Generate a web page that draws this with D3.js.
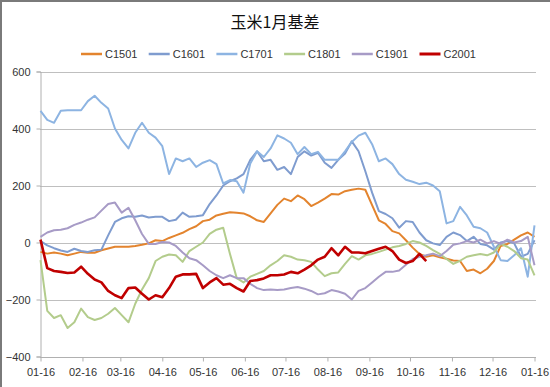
<!DOCTYPE html>
<html><head><meta charset="utf-8">
<script src="https://cdn.jsdelivr.net/npm/d3@7"></script>
<style>body{margin:0;background:#fff}svg{display:block}</style>
</head><body>
<svg id="chart" width="550" height="387"></svg>
<script>
const title = "玉米1月基差";
const seriesNames = ["C1501","C1601","C1701","C1801","C1901","C2001"];
const seriesColors = ["#E3842E","#7F9CCF","#8DB4E2","#B3CC8C","#A79BC6","#C00000"];
const yTicks = [-400,-200,0,200,400,600];
const xTickLabels = ["01-16","02-16","03-16","04-16","05-16","06-16","07-16","08-16","09-16","10-16","11-16","12-16","01-16"];
const dates = ["01-16","01-21","01-26","01-31","02-05","02-10","02-15","02-20","02-25","03-02",
"03-07","03-12","03-17","03-22","03-27","04-01","04-06","04-11","04-16","04-21",
"04-26","05-01","05-06","05-11","05-16","05-21","05-26","05-31","06-05","06-10",
"06-15","06-20","06-25","06-30","07-05","07-10","07-15","07-20","07-25","07-30",
"08-04","08-09","08-14","08-19","08-24","08-29","09-03","09-08","09-13","09-18",
"09-23","09-28","10-03","10-08","10-13","10-18","10-23","10-28","11-02","11-07",
"11-12","11-17","11-22","11-27","12-02","12-07","12-12","12-17","12-22","12-27",
"01-01","01-06","01-11","01-16"];
const c1501 = [-33,-39,-35,-39,-45,-39,-33,-36,-36,-27,
-21,-15,-15,-15,-12,-8,-3,8,5,16,
25,34,47,57,75,80,95,101,106,104,
102,92,78,72,102,132,154,145,165,152,
128,140,154,170,168,180,185,189,185,131,
78,65,40,32,8,-18,-40,-50,-45,-52,
-57,-63,-65,-100,-95,-108,-92,-65,-12,-5,
10,25,35,20];
const c1601 = [5,-10,-20,-28,-33,-22,-30,-33,-27,-25,
25,72,85,92,90,95,88,90,90,75,
80,105,90,92,96,135,165,200,215,225,
240,290,320,285,290,255,265,240,300,320,
305,315,280,262,290,312,355,320,250,175,
110,100,85,52,75,72,35,8,-3,-9,
20,35,26,5,20,-5,-10,-25,0,5,
-3,-50,-40,8];
const c1701 = [462,430,420,462,464,464,464,496,515,490,
470,400,360,330,385,420,385,368,338,240,
295,285,295,265,280,289,275,207,219,215,
175,277,320,300,330,376,365,350,310,335,
310,318,290,290,290,320,353,375,385,345,
285,295,275,240,220,213,205,210,200,180,
67,75,125,95,55,50,35,-15,-62,-65,
-45,-20,-120,60];
const c1801 = [-62,-240,-265,-255,-300,-280,-232,-262,-272,-265,
-250,-230,-255,-280,-215,-165,-125,-65,-50,-42,
-45,-68,-30,-15,0,30,45,52,-40,-125,
-140,-120,-110,-100,-80,-65,-45,-50,-60,-62,
-68,-95,-118,-108,-105,-75,-48,-60,-45,-40,
-33,-25,-17,-12,-5,5,0,-12,-27,-40,
-58,-75,-64,-50,-45,-40,-45,-35,-5,-15,
-30,-55,-60,-115];
const c1901 = [20,35,43,45,50,62,70,80,88,112,
135,140,105,122,78,30,-5,-5,2,0,
-12,-35,-55,-62,-80,-100,-115,-125,-115,-125,
-125,-145,-160,-167,-165,-167,-165,-160,-156,-162,
-170,-182,-178,-167,-172,-180,-200,-170,-160,-140,
-120,-103,-103,-98,-78,-58,-50,-45,-39,-48,
-30,-8,-3,5,0,10,-3,5,-5,10,
0,5,20,-80];
const c2001 = [10,-90,-100,-103,-107,-105,-85,-110,-130,-140,
-170,-185,-195,-160,-158,-180,-200,-185,-192,-160,
-120,-112,-112,-110,-160,-140,-125,-148,-145,-160,
-172,-135,-132,-126,-115,-115,-112,-103,-108,-95,
-80,-60,-50,-20,-45,-15,-35,-35,-38,-30,
-22,-15,-30,-60,-72,-65,-40,-65];

const seriesValues = [c1501,c1601,c1701,c1801,c1901,c2001];

// parse MM-DD with year rollover
function toDates(labels){
  let year = 2015, prevM = 0;
  return labels.map(s => {
    const [m,d] = s.split("-").map(Number);
    if (m < prevM) year++;
    prevM = m;
    return new Date(year, m-1, d);
  });
}
const parsedDates = toDates(dates);
const tickDates = toDates(xTickLabels);

const svg = d3.select("#chart");
const font = "'Liberation Sans', Arial, sans-serif";

// outer border
svg.append("rect").attr("x",1).attr("y",1).attr("width",600).attr("height",500)
  .attr("fill","none").attr("stroke","#7a7a7a").attr("stroke-width",2);

const x = d3.scaleTime().domain([tickDates[0], tickDates[tickDates.length-1]]).range([40.5, 534.5]);
const y = d3.scaleLinear().domain([-400,600]).range([356.5, 71.5]);

// gridlines
svg.append("g").selectAll("line").data(yTicks.filter(v=>v>-400)).join("line")
  .attr("x1",40).attr("x2",536).attr("y1",d=>Math.round(y(d))+0.5).attr("y2",d=>Math.round(y(d))+0.5)
  .attr("stroke","#bfbfbf").attr("stroke-width",1);

// y axis
const yAxis = svg.append("g").attr("transform","translate(40.5,0)")
  .call(d3.axisLeft(y).tickValues(yTicks).tickSize(4).tickFormat(d3.format("d")));
yAxis.select(".domain").attr("stroke","#b0b0b0");
yAxis.selectAll(".tick line").attr("stroke","#b0b0b0");
yAxis.selectAll("text").attr("font-family",font).attr("font-size","11px").attr("fill","#333").attr("x",-10);

// x axis
const xAxis = svg.append("g").attr("transform",`translate(0,${Math.round(y(-400))+0.5})`)
  .call(d3.axisBottom(x).tickValues(tickDates).tickSize(4).tickFormat((d,i)=>xTickLabels[i]));
xAxis.select(".domain").attr("stroke","#b0b0b0").attr("d","M40,0H536");
xAxis.selectAll(".tick line").attr("stroke","#b0b0b0");
xAxis.selectAll("text").attr("font-family",font).attr("font-size","11px").attr("fill","#333").attr("dy","1.05em");

// lines
const line = d3.line().defined(d=>d.v!=null).x(d=>x(d.t)).y(d=>y(d.v));
seriesValues.forEach((vals,si)=>{
  const pts = vals.map((v,i)=>({t:parsedDates[i], v:v}));
  svg.append("path").datum(pts).attr("d",line)
    .attr("fill","none").attr("stroke",seriesColors[si])
    .attr("stroke-width", si===5?2.6:2).attr("stroke-linejoin","round");
});

// title
svg.append("text").attr("x",275).attr("y",28).attr("text-anchor","middle")
  .attr("font-family","'Noto Sans CJK SC', sans-serif").attr("font-size","16px").attr("fill","#111")
  .text(title);

// legend
const lg = svg.append("g");
seriesNames.forEach((n,i)=>{
  const lx = 81 + i*67.7;
  lg.append("line").attr("x1",lx).attr("x2",lx+21).attr("y1",54).attr("y2",54)
    .attr("stroke",seriesColors[i]).attr("stroke-width", i===5?3:2.5);
  lg.append("text").attr("x",lx+24).attr("y",58).attr("font-family",font)
    .attr("font-size","11px").attr("fill","#333").text(n);
});
</script>
</body></html>
